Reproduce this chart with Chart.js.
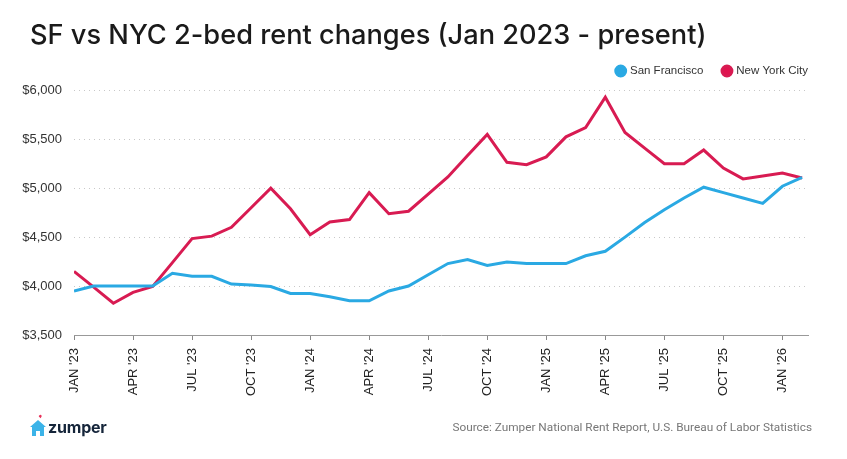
<!DOCTYPE html>
<html>
<head>
<meta charset="utf-8">
<script src="https://cdn.jsdelivr.net/npm/chart.js@4.4.1/dist/chart.umd.min.js"></script>
<style>
  html, body { margin: 0; padding: 0; background: #fff; }
  #wrap { position: relative; width: 847px; height: 459px; overflow: hidden; }
  #rentChart { position: absolute; left: 0; top: 0; }
  #logo { position: absolute; left: 30px; top: 414px; display: flex; align-items: flex-end; }
  #logo span { font-family: Inter, 'Noto Sans', sans-serif; font-weight: 700; font-size: 16px; color: #15253a; margin-left: 2px; line-height: 18px; letter-spacing: -0.2px; }
  #source { position: absolute; right: 35px; top: 420px; font-family: 'Liberation Sans Narrow', Roboto, sans-serif; font-size: 11.8px; color: #777; }
</style>
</head>
<body>
<div id="wrap">
  <canvas id="rentChart" width="847" height="459"></canvas>
  <div id="logo">
    <svg width="16" height="22" viewBox="0 0 16 22">
      <path d="M9.5 1.2 a1.3 1.3 0 0 1 2.1 1.4 L10.6 4.2 L8.8 2.6 a1.3 1.3 0 0 1 0.7 -1.4z" fill="#e8325a"/>
      <path d="M8 6 L16 13 L14 13 L14 22 L10 22 L10 17 L6 17 L6 22 L2 22 L2 13 L0 13 Z" fill="#3bb3e8"/>
    </svg>
    <span>zumper</span>
  </div>
  <div id="source">Source: Zumper National Rent Report, U.S. Bureau of Labor Statistics</div>
</div>
<script>
// monthly, Jan 2023 .. Feb 2026
var months = ['Jan 23','Feb 23','Mar 23','Apr 23','May 23','Jun 23','Jul 23','Aug 23','Sep 23','Oct 23','Nov 23','Dec 23',
              'Jan 24','Feb 24','Mar 24','Apr 24','May 24','Jun 24','Jul 24','Aug 24','Sep 24','Oct 24','Nov 24','Dec 24',
              'Jan 25','Feb 25','Mar 25','Apr 25','May 25','Jun 25','Jul 25','Aug 25','Sep 25','Oct 25','Nov 25','Dec 25',
              'Jan 26','Feb 26'];

var sf_rent = [3950, 4000, 4000, 4000, 4000, 4130, 4100, 4100, 4020, 4010, 3995, 3925,
               3925, 3890, 3850, 3850, 3950, 4000, 4115, 4230, 4270, 4210, 4245, 4230,
               4230, 4230, 4310, 4355, 4500, 4650, 4780, 4900, 5010, 4955, 4900, 4845,
               5020, 5110];

var nyc_rent = [4150, 3990, 3825, 3935, 3995, 4240, 4485, 4510, 4600, 4800, 5000, 4790,
                4525, 4655, 4680, 4955, 4740, 4765, 4940, 5115, 5335, 5550, 5265, 5240,
                5320, 5525, 5620, 5930, 5570, 5410, 5250, 5250, 5390, 5205, 5095, 5125,
                5155, 5105];

// one label every quarter
var tick_labels = ["JAN '23", "APR '23", "JUL '23", "OCT '23", "JAN '24", "APR '24", "JUL '24",
                   "OCT '24", "JAN '25", "APR '25", "JUL '25", "OCT '25", "JAN '26"];

function to_points(values) {
    return values.map(function(v, i) { return {x: i, y: v}; });
}

// nudge title and legend after layout: title in from the edge, legend flush right and a bit higher
var block_shift = {
    id: 'block_shift',
    afterLayout: function(chart) {
        chart.titleBlock.left += 8;
        chart.titleBlock.right += 8;
        chart.legend.left += 20;
        chart.legend.right += 20;
        chart.legend.top -= 3.6;
        chart.legend.bottom -= 3.6;
    }
};

var chart = new Chart(document.getElementById('rentChart'), {
    type: 'line',
    data: {
        datasets: [{
            label: 'San Francisco',
            data: to_points(sf_rent),
            borderColor: '#2aa9e3',
            backgroundColor: '#2aa9e3',
            borderWidth: 3,
            pointRadius: 0,
            tension: 0
        }, {
            label: 'New York City',
            data: to_points(nyc_rent),
            borderColor: '#d81b52',
            backgroundColor: '#e0134f',
            borderWidth: 3,
            pointRadius: 0,
            tension: 0
        }]
    },
    plugins: [block_shift],
    options: {
        responsive: false,
        animation: false,
        layout: { padding: { left: 22, right: 39, top: 0, bottom: 55 } },
        plugins: {
            title: {
                display: true,
                text: 'SF vs NYC 2-bed rent changes (Jan 2023 - present)',
                align: 'start',
                color: '#1a1a1a',
                font: { family: 'Inter', size: 27.2, weight: '500' },
                padding: { top: 20, bottom: -3.8 }
            },
            legend: {
                align: 'end',
                labels: {
                    usePointStyle: true,
                    pointStyle: 'circle',
                    boxWidth: 7,
                    boxHeight: 7,
                    padding: 20,
                    color: '#333',
                    font: { family: 'Liberation Sans', size: 11.5 }
                }
            },
            tooltip: { enabled: false }
        },
        scales: {
            x: {
                type: 'linear',
                min: 0,
                max: 37.3,
                grid: { drawOnChartArea: false, drawTicks: true, tickLength: 5, color: '#888' },
                border: { display: true, color: '#999', width: 1 },
                ticks: {
                    stepSize: 3,
                    includeBounds: false,
                    autoSkip: false,
                    minRotation: 90,
                    maxRotation: 90,
                    padding: 8,
                    color: '#222',
                    font: { family: 'Liberation Sans', size: 13 },
                    callback: function(value) { return tick_labels[value / 3]; }
                }
            },
            y: {
                min: 3500,
                max: 6000,
                afterFit: function(scale) { scale.width = 52; },
                grid: { color: '#c8c8c8', drawTicks: false, lineWidth: 1 },
                border: { display: false, dash: [1, 4] },
                ticks: {
                    stepSize: 500,
                    padding: 12,
                    color: '#333',
                    font: { family: 'Liberation Sans', size: 13 },
                    callback: function(value) { return '$' + value.toLocaleString('en-US'); }
                }
            }
        }
    }
});
</script>
</body>
</html>
